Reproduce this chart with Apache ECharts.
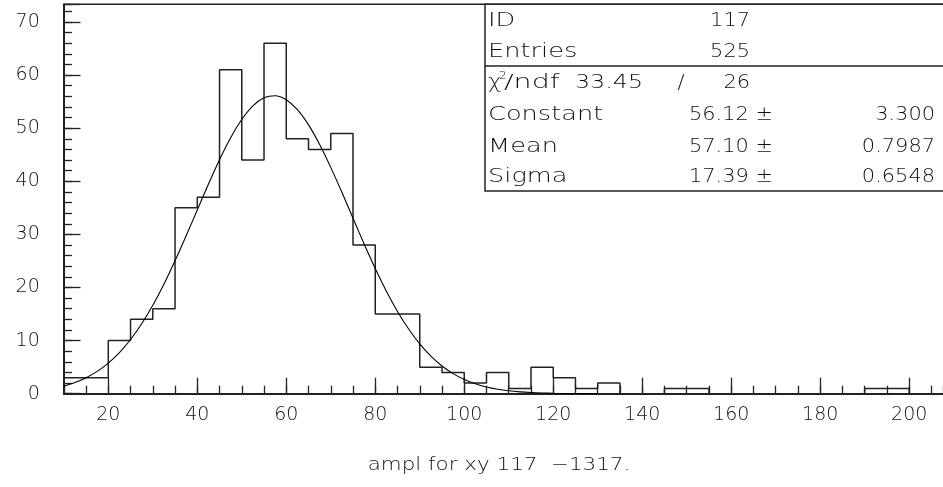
<!DOCTYPE html>
<html><head><meta charset="utf-8">
<script src="https://cdn.jsdelivr.net/npm/echarts@6/dist/echarts.min.js"></script>
<style>html,body{margin:0;padding:0;background:#fff}#c{width:943px;height:487px}</style>
</head><body><div id="c"></div>
<script>
// histogram: left edges of 5-unit bins and counts
const binStart = [10,15,20,25,30,35,40,45,50,55,60,65,70,75,80,85,90,95,100,105,110,115,120,125,130,135,140,145,150,155,160,165,170,175,180,185,190,195,200];
const binCount = [3,3,10,14,16,35,37,61,44,66,48,46,49,28,15,15,5,4,2,4,1,5,3,1,2,0,0,1,1,0,0,0,0,0,0,0,1,1,0];
// fitted gaussian curve
const curveX = [10,12.5,15,17.5,20,22.5,25,27.5,30,32.5,35,37.5,40,42.5,45,47.5,50,52.5,55,57.5,60,62.5,65,67.5,70,72.5,75,77.5,80,82.5,85,87.5,90,92.5,95,97.5,100,102.5,105,107.5,110,112.5,115,117.5,120,125,130];
const curveY = [1.43,2.09,3.00,4.20,5.77,7.75,10.21,13.18,16.66,20.63,25.03,29.74,34.61,39.45,44.06,48.19,51.63,54.19,55.71,56.11,55.35,53.48,50.62,46.93,42.62,37.92,33.04,28.20,23.58,19.31,15.49,12.18,9.37,7.07,5.22,3.78,2.68,1.86,1.26,0.84,0.55,0.35,0.22,0.13,0.08,0.03,0.01];
const xTickLabels = [20,40,60,80,100,120,140,160,180,200];
const yTickLabels = [0,10,20,30,40,50,60,70];
const statsLabels = ['ID','Entries','χ','Constant','Mean','Sigma'];
const statsMid = ['117','525','26','56.12 ±','57.10 ±','17.39 ±'];
const statsRight = ['','','','3.300','0.7987','0.6548'];
const chiText = ['2','/ndf','33.45','/'];
const titleText = 'ampl for xy 117  −1317.';

const FONT = 'DejaVu Sans';
const TXT = '#111';
const X0 = 10, X1 = 207.6, Y1 = 73.33;
const chart = echarts.init(document.getElementById('c'), null, {renderer:'canvas'});

const histData = binStart.map((x,i)=>[x,binCount[i]]);
histData.push([X1,0]);
const curveData = curveX.map((x,i)=>[x,curveY[i]]);

const rowsY = [20.7,51.7,83.3,115,146.7,176.7];
const g = [];
g.push({type:'line', shape:{x1:63.8,y1:4.3,x2:943,y2:4.3}, style:{stroke:'#222',lineWidth:1.5}, z:50});
g.push({type:'rect', shape:{x:485,y:4.3,width:470,height:186.7}, style:{fill:'#fff',stroke:'#222',lineWidth:1.5}, z:50});
g.push({type:'line', shape:{x1:485,y1:66,x2:943,y2:66}, style:{stroke:'#222',lineWidth:1.5}, z:51});
function txt(t,x,y,align,sx,size){
  g.push({type:'text', x:x, y:y, scaleX:sx, z:52,
    style:{text:t, fill:TXT, font:'200 '+(size||19)+'px "'+FONT+'"', align:align, verticalAlign:'middle'}});
}
for (let r=0;r<6;r++){
  if (r===2) txt(statsLabels[r],488,rowsY[r],'left',1.2);
  else txt(statsLabels[r],488,rowsY[r],'left',1.35);
  if (r<3) txt(statsMid[r],750,rowsY[r],'right',1.1);
  else txt(statsMid[r],773,rowsY[r],'right',1.1);
  if (statsRight[r]) txt(statsRight[r],935,rowsY[r],'right',1.1);
}
txt(chiText[0],499,rowsY[2]-7,'left',1.1,11);
txt(chiText[1],504,rowsY[2],'left',1.5);
txt(chiText[2],643,rowsY[2],'right',1.25);
txt(chiText[3],681,rowsY[2],'center',1.1);
g.push({type:'text', x:499, y:465, scaleX:1.19, z:52,
  style:{text:titleText, fill:TXT, font:'200 18px "'+FONT+'"', align:'center', verticalAlign:'middle'}});

const axisLbl = {fontFamily:FONT, fontSize:19, fontWeight:200, color:TXT};
chart.setOption({
  animation:false,
  backgroundColor:'#fff',
  grid:{left:63.8, right:0, top:4.3, bottom:93.3, containLabel:false, outerBoundsMode:'none'},
  xAxis:[
    {type:'value', position:'bottom', min:X0, max:X1, interval:5,
     axisLine:{show:true, onZero:false, lineStyle:{color:'#222', width:2}},
     axisTick:{show:true, inside:true, length:16, customValues:xTickLabels, lineStyle:{color:'#222',width:1.3}},
     axisLabel:{show:true, customValues:xTickLabels, margin:12, ...axisLbl},
     splitLine:{show:false}},
    {type:'value', position:'bottom', min:X0, max:X1, interval:5,
     axisLine:{show:false, onZero:false},
     axisTick:{show:true, inside:true, length:8, lineStyle:{color:'#222',width:1.3}},
     axisLabel:{show:false}, splitLine:{show:false}}
  ],
  yAxis:[
    {type:'value', position:'left', min:0, max:Y1, interval:10,
     axisLine:{show:true, onZero:false, lineStyle:{color:'#222', width:2}},
     axisTick:{show:true, inside:true, length:16.7, lineStyle:{color:'#222',width:1.3}},
     axisLabel:{show:true, customValues:yTickLabels, margin:24, ...axisLbl},
     splitLine:{show:false}},
    {type:'value', position:'left', min:0, max:Y1, interval:2,
     axisLine:{show:false, onZero:false},
     axisTick:{show:true, inside:true, length:8.3, lineStyle:{color:'#222',width:1.3}},
     axisLabel:{show:false}, splitLine:{show:false}}
  ],
  series:[
    {type:'line', step:'end', data:histData, symbol:'none', xAxisIndex:0, yAxisIndex:0,
     lineStyle:{color:'#222', width:1.5}, z:3},
    {type:'line', data:curveData, smooth:0.3, symbol:'none', xAxisIndex:0, yAxisIndex:0,
     lineStyle:{color:'#000', width:1.1}, z:4}
  ],
  graphic:g
});
</script></body></html>
